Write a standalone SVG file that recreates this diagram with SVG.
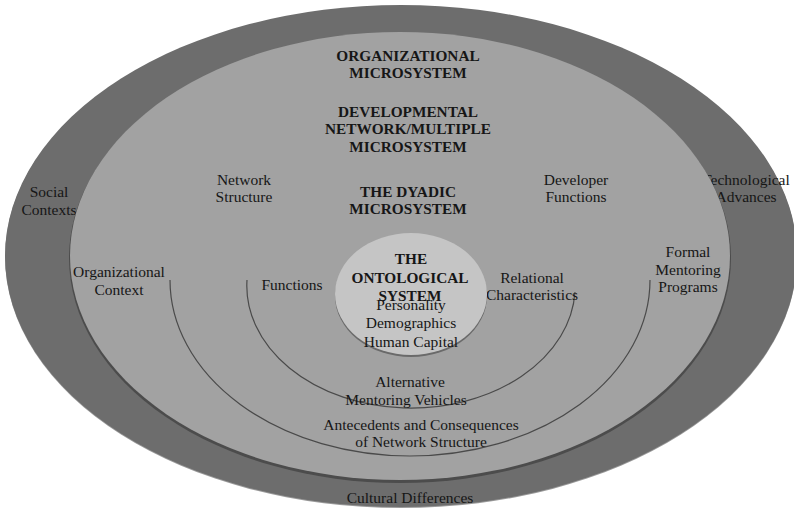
<svg xmlns="http://www.w3.org/2000/svg" width="794" height="511" viewBox="0 0 794 511">
<style>
text{font-family:"Liberation Serif","Times New Roman",serif;fill:#161616;text-anchor:middle}
.r{font-size:15.5px}
.b{font-size:15.3px;font-weight:bold}
.arc{fill:none;stroke:#4a4a4a;stroke-width:1.2}
</style>
<rect width="794" height="511" fill="#ffffff"/>
<g id="outer">
<ellipse cx="401" cy="257" rx="396" ry="251" fill="#9a9a9a"/>
<ellipse cx="401" cy="256" rx="396" ry="251" fill="#6d6d6d"/>
<text class="r" x="49" y="197">Social</text>
<text class="r" x="49" y="215">Contexts</text>
<text class="r" x="746" y="185">Technological</text>
<text class="r" x="746" y="202">Advances</text>
<text class="r" x="410" y="503">Cultural Differences</text>
</g>
<g id="organizational">
<ellipse cx="400" cy="258" rx="331" ry="225" fill="#4c4c4c"/>
<ellipse cx="400" cy="256" rx="330" ry="224" fill="#a2a2a2"/>
<text class="b" x="408" y="61">ORGANIZATIONAL</text>
<text class="b" x="408" y="78">MICROSYSTEM</text>
<text class="r" x="119" y="277">Organizational</text>
<text class="r" x="119" y="295">Context</text>
<text class="r" x="688" y="257">Formal</text>
<text class="r" x="688" y="275">Mentoring</text>
<text class="r" x="688" y="292">Programs</text>
<text class="r" x="421" y="430">Antecedents and Consequences</text>
<text class="r" x="421" y="447">of Network Structure</text>
</g>
<g id="arcs">
<path class="arc" d="M170,280 A240,176 0 0 0 650,280"/>
<path class="arc" d="M247,280 A164,122 0 0 0 575,292"/>
</g>
<g id="developmental">
<text class="b" x="408" y="117">DEVELOPMENTAL</text>
<text class="b" x="408" y="134">NETWORK/MULTIPLE</text>
<text class="b" x="408" y="152">MICROSYSTEM</text>
<text class="r" x="244" y="185">Network</text>
<text class="r" x="244" y="202">Structure</text>
<text class="r" x="576" y="185">Developer</text>
<text class="r" x="576" y="202">Functions</text>
</g>
<g id="dyadic">
<text class="b" x="408" y="197">THE DYADIC</text>
<text class="b" x="408" y="214">MICROSYSTEM</text>
<text class="r" x="292" y="290">Functions</text>
<text class="r" x="532" y="283">Relational</text>
<text class="r" x="532" y="300">Characteristics</text>
<text class="r" x="410" y="387">Alternative</text>
<text class="r" x="406" y="405">Mentoring Vehicles</text>
</g>
<g id="ontological">
<ellipse cx="411" cy="296" rx="76" ry="61" fill="#6a6a6a"/>
<ellipse cx="411" cy="294" rx="76" ry="61" fill="#c5c5c5"/>
<text class="b" x="411" y="264">THE</text>
<text class="b" x="410" y="283">ONTOLOGICAL</text>
<text class="b" x="410" y="301">SYSTEM</text>
<text class="r" x="411" y="310">Personality</text>
<text class="r" x="411" y="328">Demographics</text>
<text class="r" x="411" y="347">Human Capital</text>
</g>
</svg>
